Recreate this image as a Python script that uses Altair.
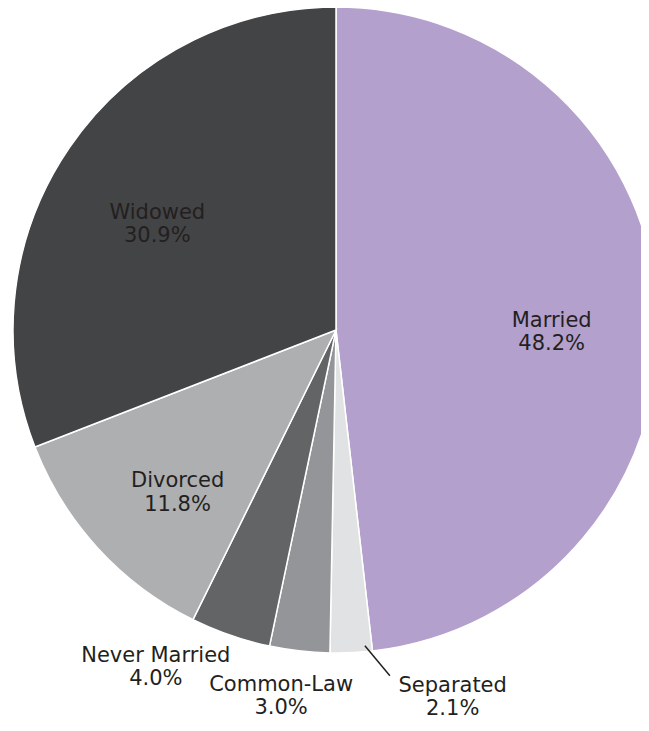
import altair as alt
import pandas as pd

# ---- data ----
categories = ["Married", "Separated", "Common-Law", "Never Married", "Divorced", "Widowed"]
values = [48.2, 2.1, 3.0, 4.0, 11.8, 30.9]
colors = ["#b3a0cd", "#e1e2e3", "#939598", "#636466", "#aeafb1", "#434446"]

# ---- layout / style ----
W, H = 633, 715
CX, CY = 328, 322          # pie centre inside the view
R = 323                     # outer radius
FONT = "DejaVu Sans"
FS = 21
TXT = "#231f20"

# label placement: radius along slice mid-angle, plus dx/dy nudge
label_place = {
    "Married": (216, 0, 3),
    "Widowed": (208, -7, 0),
    "Divorced": (227, 9, -2),
    "Never Married": (383, -55, -36),
    "Common-Law": (380, -12, -23),
    "Separated": (396, 98, -40),
}

df = pd.DataFrame({"category": categories, "value": values, "idx": list(range(len(categories)))})
base = alt.Chart(df)

pie = base.mark_arc(radius=R, stroke="white", strokeWidth=1.5).encode(
    theta=alt.Theta("value:Q", stack=True),
    order=alt.Order("idx:Q"),
    color=alt.Color("category:N", scale=alt.Scale(domain=categories, range=colors), legend=None),
    x=alt.value(CX),
    y=alt.value(CY),
)

angles = (
    base.transform_joinaggregate(total="sum(value)")
    .transform_window(cum="sum(value)", sort=[alt.SortField("idx")], frame=[None, 0])
    .transform_calculate(
        mid="2*PI*(datum.cum - datum.value/2)/datum.total",
        label="datum.category + '\\n' + format(datum.value, '.1f') + '%'",
    )
)

layers = [pie]
for cat, (r, dx, dy) in label_place.items():
    layers.append(
        angles.transform_filter(alt.datum.category == cat)
        .mark_text(
            lineBreak="\n", align="center", baseline="middle", font=FONT, fontSize=FS,
            lineHeight=23.5, color=TXT, dx=dx, dy=dy,
        )
        .encode(
            text="label:N",
            theta=alt.Theta("mid:Q", scale=None),
            radius=alt.value(r),
            x=alt.value(CX),
            y=alt.value(CY),
        )
    )

# leader line for "Separated"
leader = (
    angles.transform_filter(alt.datum.category == "Separated")
    .transform_calculate(
        lx=f"{CX} + 316*sin(datum.mid) + 14",
        ly=f"{CY} - 316*cos(datum.mid)",
    )
    .transform_calculate(lx2="datum.lx + 25", ly2="datum.ly + 30")
    .mark_rule(color="#231f20", strokeWidth=1.5)
    .encode(
        x=alt.X("lx:Q", scale=None),
        y=alt.Y("ly:Q", scale=None),
        x2="lx2:Q",
        y2="ly2:Q",
    )
)
layers.append(leader)

chart = (
    alt.layer(*layers)
    .properties(width=W, height=H, padding=0, autosize=alt.AutoSizeParams(type="none"), background="white")
    .configure_view(stroke=None)
)

chart.save("out.html", embed_options={"renderer": "svg", "actions": False})
